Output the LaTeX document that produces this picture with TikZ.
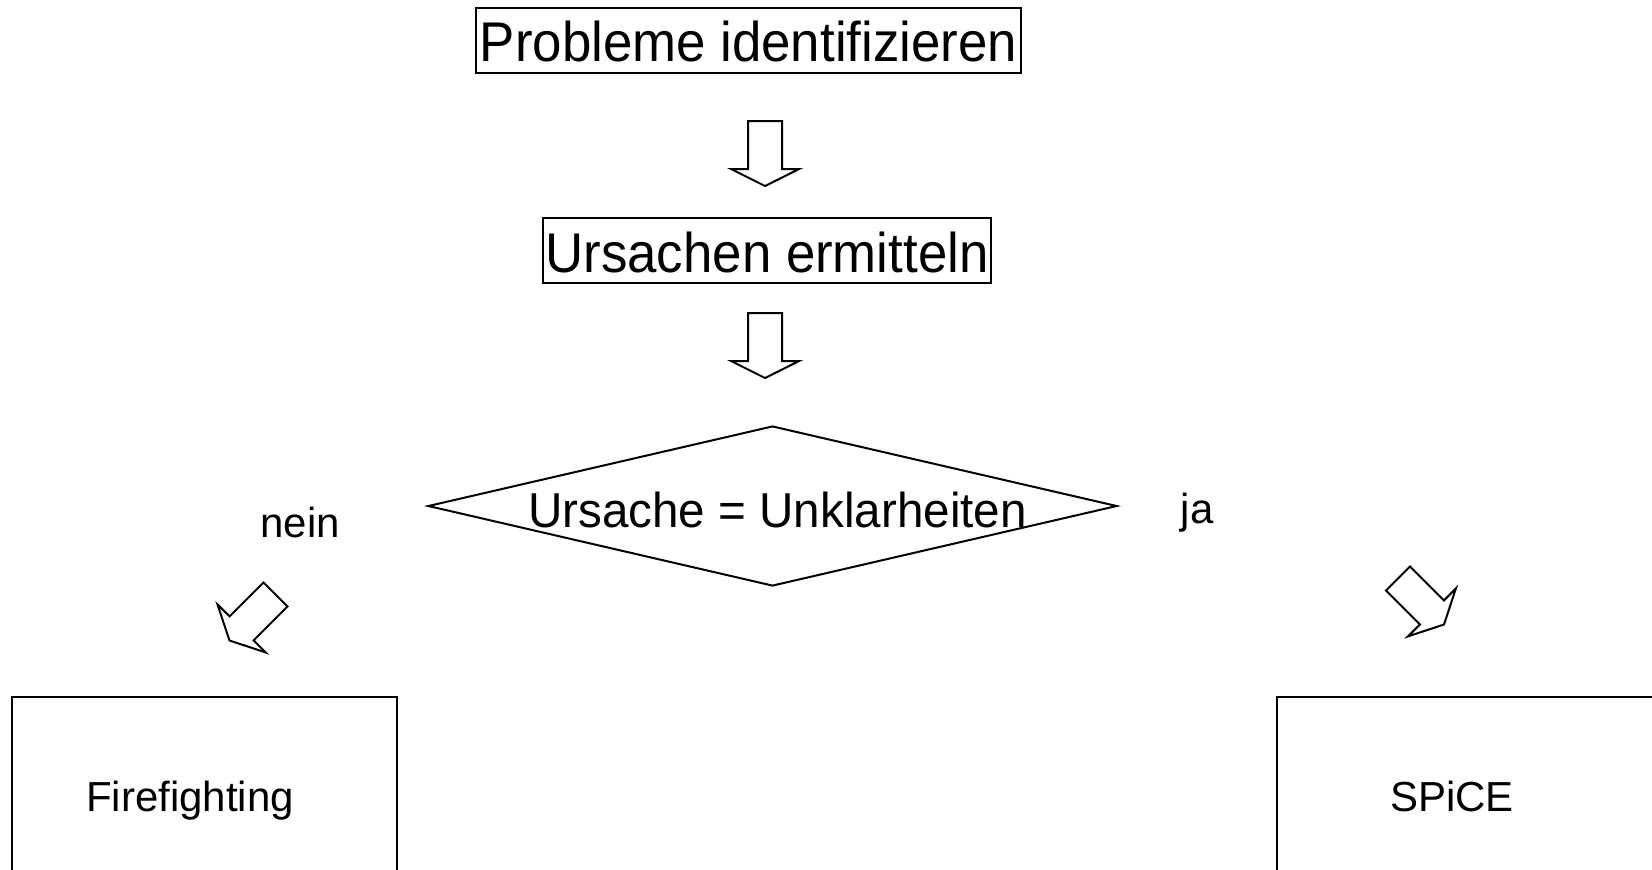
\documentclass[tikz,border=0pt]{standalone}
\usepackage{fontspec}
\usepackage{graphicx}
\setmainfont{Liberation Sans}
\usetikzlibrary{shapes.geometric}
\newcommand{\tallish}[2]{\scalebox{1}[#1]{#2}}
\begin{document}
\begin{tikzpicture}[x=0.5pt,y=-0.5pt,
  box/.style={draw, line width=1pt, inner sep=0pt},
  bigtext/.style={font=\fontsize{26.4pt}{30pt}\selectfont},
  midtext/.style={font=\fontsize{23.8pt}{28pt}\selectfont},
  smalltext/.style={font=\fontsize{21pt}{25pt}\selectfont, inner sep=0pt, anchor=base},
  blockarrow/.style={draw, line width=1pt, line join=miter, fill=white}]
\useasboundingbox (0,0) rectangle (1652,869);
\clip (0,0) rectangle (1652,869);
% boxes
\node[box, bigtext, minimum width=272.5pt, minimum height=32.5pt, text height=20.5pt, text depth=0pt] (p) at (748.5,40.5) {\tallish{1.06}{Probleme identifizieren}};
\node[box, bigtext, minimum width=224pt, minimum height=32.5pt, text height=21.5pt, text depth=0pt] (u) at (767,250.5) {\tallish{1.06}{Ursachen ermitteln}};
% decision
\node[draw, diamond, line width=1pt, inner sep=0pt, minimum width=344.5pt, minimum height=80pt] (d) at (772.5,506) {};
\node[midtext, inner sep=0pt, anchor=base] (dt) at (777.5,527) {\tallish{1.03}{Ursache = Unklarheiten}};
\node[smalltext] (nein) at (300,537) {nein};
\node[smalltext] (ja) at (1197,523) {ja};
% bottom boxes
\node[box, minimum width=192.5pt, minimum height=101.5pt] (ff) at (204.5,798.5) {};
\node[smalltext] (fft) at (190,811) {Firefighting};
\node[box, minimum width=211.5pt, minimum height=101.5pt] (sp) at (1488.5,798.5) {};
\node[smalltext] (spt) at (1452,811) {SPiCE};
% block arrows
\draw[blockarrow] (748,121) -- (748,169) -- (731,169) -- (765,186) -- (799,169) -- (782,169) -- (782,121) -- cycle;
\draw[blockarrow] (748,313) -- (748,361) -- (731,361) -- (765,378) -- (799,361) -- (782,361) -- (782,313) -- cycle;
\draw[blockarrow] (263.5,582.5) -- (229.6,616.4) -- (217.5,604.4) -- (229.5,640.5) -- (265.6,652.4) -- (253.6,640.4) -- (287.5,606.5) -- cycle;
\draw[blockarrow] (1410,566.5) -- (1443.9,600.4) -- (1455.9,588.4) -- (1444,624.5) -- (1407.9,636.4) -- (1419.9,624.4) -- (1386,590.5) -- cycle;
\end{tikzpicture}
\end{document}
